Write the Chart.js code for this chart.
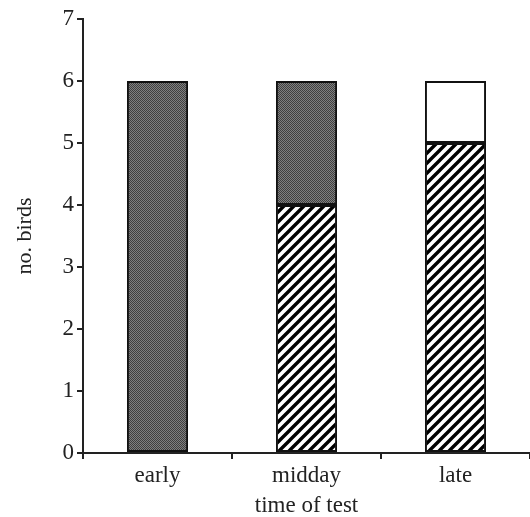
<!DOCTYPE html>
<html>
<head>
<meta charset="utf-8">
<script src="https://cdn.jsdelivr.net/npm/chart.js@4"></script>
<style>
  html, body { margin: 0; padding: 0; background: #fff; }
  #wrap { width: 530px; height: 517px; }
</style>
</head>
<body>
<div id="wrap"><canvas id="chart" width="530" height="517"></canvas></div>
<script>
// ===== DATA =====
const categories = ['early', 'midday', 'late'];
const hatchedValues = [null, 4, 5];
const darkValues = [6, 2, null];
const whiteValues = [null, null, 1];
const yTicks = [0, 1, 2, 3, 4, 5, 6, 7];

const FONT = "'Liberation Serif', 'Times New Roman', serif";

// ===== PATTERNS =====
function makeHatch() {
  const n = 10;
  const c = document.createElement('canvas');
  c.width = n; c.height = n;
  const g = c.getContext('2d');
  g.fillStyle = '#fff';
  g.fillRect(0, 0, n, n);
  g.strokeStyle = '#000';
  g.lineWidth = 3.4;
  g.beginPath();
  g.moveTo(-1, n + 1); g.lineTo(n + 1, -1);
  g.moveTo(-n / 2 - 1, n / 2 + 1); g.lineTo(n / 2 + 1, -n / 2 - 1);
  g.moveTo(n / 2 - 1, n * 1.5 + 1); g.lineTo(n * 1.5 + 1, n / 2 - 1);
  g.stroke();
  return g.createPattern(c, 'repeat');
}

function makeStipple() {
  const c = document.createElement('canvas');
  c.width = 2; c.height = 2;
  const g = c.getContext('2d');
  g.fillStyle = '#808080';
  g.fillRect(0, 0, 2, 2);
  g.fillStyle = '#404040';
  g.fillRect(0, 0, 1, 1);
  g.fillRect(1, 1, 1, 1);
  return g.createPattern(c, 'repeat');
}

const barCommon = {
  borderColor: '#111',
  borderWidth: 2,
  borderSkipped: false,
  barPercentage: 0.41,
  categoryPercentage: 1.0
};

new Chart(document.getElementById('chart'), {
  type: 'bar',
  data: {
    labels: categories,
    datasets: [
      Object.assign({ label: 'hatched', data: hatchedValues, backgroundColor: makeHatch() }, barCommon),
      Object.assign({ label: 'dark', data: darkValues, backgroundColor: makeStipple() }, barCommon),
      Object.assign({ label: 'white', data: whiteValues, backgroundColor: '#fff' }, barCommon)
    ]
  },
  options: {
    responsive: false,
    animation: false,
    layout: { padding: { top: 19, right: 0, left: 8, bottom: 0 } },
    plugins: { legend: { display: false }, tooltip: { enabled: false } },
    scales: {
      x: {
        stacked: true,
        grid: { drawOnChartArea: false, drawTicks: true, tickLength: 6, color: '#222', lineWidth: 2 },
        border: { color: '#222', width: 2 },
        ticks: { color: '#222', font: { family: FONT, size: 23 }, padding: 3 },
        title: { display: true, text: 'time of test', color: '#222', font: { family: FONT, size: 23, lineHeight: 1 }, padding: { top: 0, bottom: 0 } },
        afterFit: s => { s.height = 64; }
      },
      y: {
        stacked: true,
        min: 0, max: 7,
        afterBuildTicks: s => { s.ticks = yTicks.map(v => ({ value: v })); },
        grid: { drawOnChartArea: false, drawTicks: true, tickLength: 6, color: '#222', lineWidth: 2 },
        border: { color: '#222', width: 2 },
        ticks: { color: '#222', font: { family: FONT, size: 23 }, padding: 3 },
        title: { display: true, text: 'no. birds', color: '#222', font: { family: FONT, size: 22 }, padding: { bottom: 10 } },
        afterFit: s => { s.width = 75; }
      }
    }
  }
});
</script>
</body>
</html>
